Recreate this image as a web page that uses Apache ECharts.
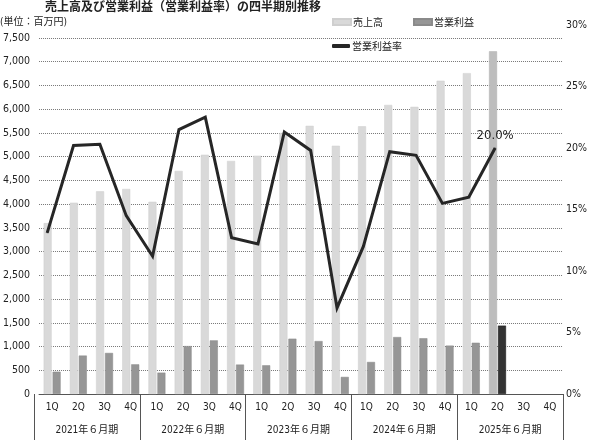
<!DOCTYPE html>
<html>
<head>
<meta charset="utf-8">
<script src="https://cdn.jsdelivr.net/npm/echarts@6/dist/echarts.min.js"></script>
<style>
html,body{margin:0;padding:0;background:#fff;}
#main{width:590px;height:440px;}
</style>
</head>
<body>
<div id="main"></div>
<script>
const quarterLabels = ['1Q','2Q','3Q','4Q','1Q','2Q','3Q','4Q','1Q','2Q','3Q','4Q','1Q','2Q','3Q','4Q','1Q','2Q','3Q','4Q'];
const yearLabels = ['2021年６月期','2022年６月期','2023年６月期','2024年６月期','2025年６月期'];
const sales = [3600,4030,4270,4320,4050,4700,5040,4910,5020,5500,5650,5230,5640,6090,6050,6600,6760,7220,null,null];
const profit = [470,810,865,625,450,1010,1130,620,605,1165,1115,360,675,1200,1175,1020,1080,1440,null,null];
const margin = [13.1,20.2,20.3,14.5,11.2,21.5,22.5,12.7,12.2,21.3,19.8,7.0,12.0,19.7,19.4,15.5,16.0,20.0,null,null];
const leftTicks = {min:0, max:7500, interval:500};
const rightTicks = {min:0, max:30, interval:5};
const latestIndex = 17;

const numFont = '"Liberation Sans Narrow","DejaVu Sans Condensed","Noto Sans CJK JP",sans-serif';
const jpFont = '"Noto Sans CJK JP",sans-serif';

const salesData = sales.map((v,i)=> i===latestIndex ? {value:v, itemStyle:{color:'#bdbdbd', borderColor:'#b0b0b0'}} : v);
const profitData = profit.map((v,i)=> i===latestIndex ? {value:v, itemStyle:{color:'#333333', borderColor:'#111'}} : v);

const chart = echarts.init(document.getElementById('main'), null, {renderer:'canvas'});
const G = {left:34, right:27, bottom:46};
chart.setOption({
  animation:false,
  backgroundColor:'#fff',
  title:[
    {text:'売上高及び営業利益（営業利益率）の四半期別推移', left:45, top:0, padding:0,
     textStyle:{fontFamily:jpFont, fontSize:12, fontWeight:'bold', color:'#222'}},
    {text:'(単位：百万円)', left:0, top:17, padding:0,
     textStyle:{fontFamily:numFont, fontSize:10, fontWeight:'normal', color:'#222'}}
  ],
  legend:[
    {data:['売上高'], left:332, top:17, padding:0, itemWidth:18, itemHeight:6, itemGap:0, icon:'rect',
     textStyle:{fontFamily:jpFont, fontSize:10, color:'#222', padding:[0,0,0,-3]}},
    {data:['営業利益'], left:413, top:17, padding:0, itemWidth:18, itemHeight:6, itemGap:0, icon:'rect',
     textStyle:{fontFamily:jpFont, fontSize:10, color:'#222', padding:[0,0,0,-3]}},
    {data:['営業利益率'], left:332, top:41, padding:0, itemWidth:18, itemHeight:4, itemGap:0, icon:'roundRect',
     textStyle:{fontFamily:jpFont, fontSize:10, color:'#222', padding:[0,0,0,-3]}}
  ],
  grid:[
    Object.assign({top:38}, G),
    Object.assign({top:25}, G),
    Object.assign({top:38}, G)
  ],
  xAxis:[
    {gridIndex:0, type:'category', data:quarterLabels,
     axisLine:{show:true, lineStyle:{color:'#555', width:1}},
     axisTick:{show:false},
     axisLabel:{margin:8, fontFamily:numFont, fontSize:10, color:'#222'}},
    {gridIndex:1, type:'category', data:quarterLabels, show:false},
    {gridIndex:2, type:'category', data:yearLabels,
     axisLine:{show:false},
     axisTick:{show:true, length:46, lineStyle:{color:'#555', width:1}},
     axisLabel:{margin:31, fontFamily:numFont, fontSize:10, color:'#222'}}
  ],
  yAxis:[
    {gridIndex:0, type:'value', min:leftTicks.min, max:leftTicks.max, interval:leftTicks.interval,
     axisLine:{show:false}, axisTick:{show:false},
     axisLabel:{margin:9, fontFamily:numFont, fontSize:10.5, color:'#222',
       formatter:v=>v.toLocaleString('en-US')},
     splitLine:{show:true, lineStyle:{color:'#777', type:[1,1], width:1}}},
    {gridIndex:1, type:'value', position:'right', min:rightTicks.min, max:rightTicks.max, interval:rightTicks.interval,
     axisLine:{show:false}, axisTick:{show:false}, splitLine:{show:false},
     axisLabel:{margin:5, fontFamily:numFont, fontSize:10.5, color:'#222', formatter:'{value}%'}},
    {gridIndex:2, type:'value', show:false, splitLine:{show:false}}
  ],
  series:[
    {name:'売上高', type:'bar', xAxisIndex:0, yAxisIndex:0, data:salesData, barWidth:8, barGap:'12%',
     itemStyle:{color:'#d9d9d9', borderColor:'#cfcfcf', borderWidth:0.5}},
    {name:'営業利益', type:'bar', xAxisIndex:0, yAxisIndex:0, data:profitData, barWidth:8, barGap:'12%',
     itemStyle:{color:'#969696', borderColor:'#8a8a8a', borderWidth:0.5}},
    {name:'営業利益率', type:'line', xAxisIndex:1, yAxisIndex:1, data:margin, symbol:'circle', symbolSize:1, showSymbol:true, z:10,
     lineStyle:{color:'#262626', width:3, join:'miter'}, itemStyle:{color:'#262626'},
     label:{show:true, position:'top', distance:5, fontFamily:numFont, fontSize:13, color:'#222',
       formatter:p=> p.dataIndex===latestIndex ? p.value.toFixed(1)+'%' : ''}}
  ]
});
</script>
</body>
</html>
